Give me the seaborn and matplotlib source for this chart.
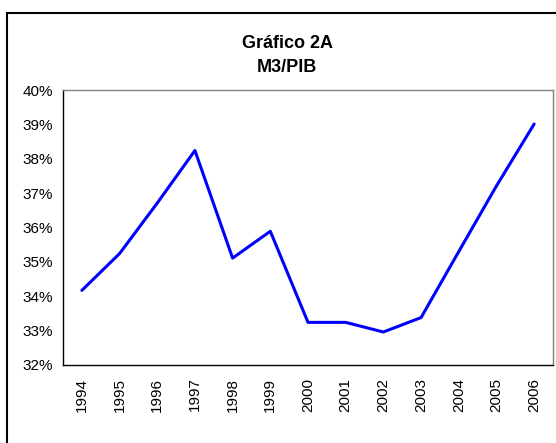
import seaborn as sns
import pandas as pd
import numpy as np
import matplotlib.pyplot as plt
from matplotlib.patches import Rectangle
from matplotlib.ticker import FixedLocator, PercentFormatter

years = ["1994", "1995", "1996", "1997", "1998", "1999", "2000",
         "2001", "2002", "2003", "2004", "2005", "2006"]
m3_pib = [34.17, 35.24, 36.71, 38.24, 35.11, 35.89, 33.24,
          33.24, 32.96, 33.38, 35.3, 37.21, 39.01]

df = pd.DataFrame({"pos": np.arange(len(years)), "m3": m3_pib})

sns.set_style("white")
plt.rcParams['font.family'] = ['Liberation Sans', 'DejaVu Sans']
plt.rcParams['text.color'] = 'black'
plt.rcParams['xtick.color'] = 'black'
plt.rcParams['ytick.color'] = 'black'

fig = plt.figure(figsize=(5.56, 4.43), dpi=100)
ax = fig.add_axes([63/556, 1-365/443, (553-63)/556, (365-90)/443])

sns.lineplot(data=df, x="pos", y="m3", color="#0000ff", linewidth=2.2, ax=ax)

ax.set_xlim(-0.5, len(years) - 0.5)
ax.set_ylim(32, 40)
ax.set_xlabel("")
ax.set_ylabel("")

# ticks at category boundaries, labels at centres
ax.xaxis.set_major_locator(FixedLocator(np.arange(-0.5, len(years), 1.0)))
ax.xaxis.set_minor_locator(FixedLocator(np.arange(len(years))))
ax.set_xticklabels([], minor=False)
ax.set_xticklabels(years, minor=True, rotation=90, fontsize=11)
ax.tick_params(axis="x", which="major", direction="inout", length=8, width=1)
ax.tick_params(axis="x", which="minor", length=0, pad=9)

ax.set_yticks(np.arange(32, 41, 1))
ax.yaxis.set_major_formatter(PercentFormatter(decimals=0))
ax.tick_params(axis="y", direction="inout", length=8, width=1, labelsize=11, pad=3)

for side in ["left", "bottom"]:
    ax.spines[side].set_color("black")
    ax.spines[side].set_linewidth(1)
for side in ["top", "right"]:
    ax.spines[side].set_color("#808080")
    ax.spines[side].set_linewidth(1)

fig.text(287/556, 1-43/443, "Gráfico 2A", ha="center", va="center", fontsize=13, fontweight="bold")
fig.text(287/556, 1-68/443, "M3/PIB", ha="center", va="center", fontsize=13, fontweight="bold")

# outer chart-area border (runs off the right and bottom edges)
fig.patches.append(Rectangle((7/556, -0.05), 1.0, 1 - 13/443 + 0.05,
                             transform=fig.transFigure, fill=False,
                             edgecolor="black", linewidth=1.5))

fig.savefig("out.png", dpi=100)
